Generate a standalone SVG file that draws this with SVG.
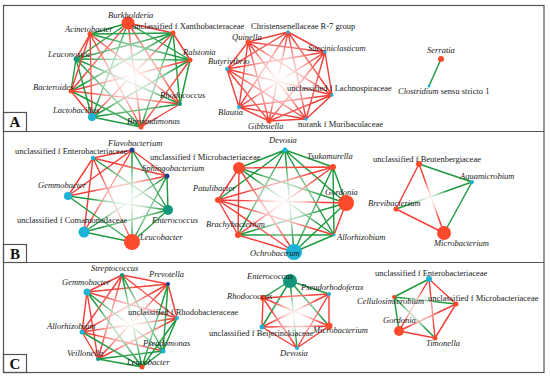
<svg xmlns="http://www.w3.org/2000/svg" width="550" height="379" viewBox="0 0 550 379">
<style>
.r{stroke:#f2413a;stroke-width:1.45;fill:none}
.g{stroke:#1e9a3e;stroke-width:1.45;fill:none}
.t{font-family:"Liberation Serif","Times New Roman",serif;font-size:8.5px;fill:#1a1a1a}
.i{font-style:italic}
.nr{fill:#fd4a2c}
.nc{fill:#1cb3d6}
.nt{fill:#12967c}
.nb{fill:#1f3f8f}
.frame{fill:none;stroke:#555;stroke-width:1.2}
.lab{font-family:"Liberation Serif","Times New Roman",serif;font-size:15px;font-weight:bold;fill:#111;text-anchor:middle}
</style>
<defs>
<radialGradient id="fade">
<stop offset="0" stop-color="#fff" stop-opacity="1"/>
<stop offset="0.5" stop-color="#fff" stop-opacity="0.65"/>
<stop offset="1" stop-color="#fff" stop-opacity="0"/>
</radialGradient>
</defs>
<rect width="550" height="379" fill="#fff"/>
<g id="frame">
<rect class="frame" x="3.5" y="5.5" width="540.5" height="367"/>
<line class="frame" x1="3.5" y1="131.5" x2="544" y2="131.5"/>
<line class="frame" x1="3.5" y1="262.5" x2="544" y2="262.5"/>
<rect class="frame" x="3.5" y="112.5" width="23" height="19"/>
<rect class="frame" x="3.5" y="244.5" width="23" height="18"/>
<rect class="frame" x="3.5" y="354.5" width="23" height="18"/>
<text class="lab" x="15" y="127">A</text>
<text class="lab" x="15" y="259">B</text>
<text class="lab" x="15" y="369">C</text>
</g>
<g id="connectors">
<!-- A1 -->
<line class="r" x1="128" y1="23" x2="173" y2="33"/>
<line class="g" x1="128" y1="23" x2="190" y2="60"/>
<line class="r" x1="128" y1="23" x2="180" y2="104"/>
<line class="r" x1="128" y1="23" x2="141" y2="127"/>
<line class="g" x1="128" y1="23" x2="92" y2="117"/>
<line class="r" x1="128" y1="23" x2="71" y2="91"/>
<line class="g" x1="128" y1="23" x2="76" y2="59"/>
<line class="g" x1="128" y1="23" x2="90" y2="34"/>
<line class="r" x1="173" y1="33" x2="190" y2="60"/>
<line class="g" x1="173" y1="33" x2="180" y2="104"/>
<line class="g" x1="173" y1="33" x2="141" y2="127"/>
<line class="r" x1="173" y1="33" x2="92" y2="117"/>
<line class="g" x1="173" y1="33" x2="71" y2="91"/>
<line class="g" x1="173" y1="33" x2="76" y2="59"/>
<line class="g" x1="173" y1="33" x2="90" y2="34"/>
<line class="g" x1="190" y1="60" x2="180" y2="104"/>
<line class="r" x1="190" y1="60" x2="141" y2="127"/>
<line class="g" x1="190" y1="60" x2="92" y2="117"/>
<line class="r" x1="190" y1="60" x2="71" y2="91"/>
<line class="g" x1="190" y1="60" x2="76" y2="59"/>
<line class="g" x1="190" y1="60" x2="90" y2="34"/>
<line class="r" x1="180" y1="104" x2="141" y2="127"/>
<line class="g" x1="180" y1="104" x2="92" y2="117"/>
<line class="r" x1="180" y1="104" x2="71" y2="91"/>
<line class="g" x1="180" y1="104" x2="76" y2="59"/>
<line class="r" x1="180" y1="104" x2="90" y2="34"/>
<line class="g" x1="141" y1="127" x2="92" y2="117"/>
<line class="g" x1="141" y1="127" x2="71" y2="91"/>
<line class="g" x1="141" y1="127" x2="76" y2="59"/>
<line class="r" x1="141" y1="127" x2="90" y2="34"/>
<line class="r" x1="92" y1="117" x2="71" y2="91"/>
<line class="g" x1="92" y1="117" x2="76" y2="59"/>
<line class="r" x1="92" y1="117" x2="90" y2="34"/>
<line class="g" x1="71" y1="91" x2="76" y2="59"/>
<line class="r" x1="71" y1="91" x2="90" y2="34"/>
<line class="r" x1="76" y1="59" x2="90" y2="34"/>
<!-- A2 all red -->
<path class="r" d="M288 32L325 52M288 32L332 95M288 32L306 119M288 32L269 121M288 32L239 107M288 32L227 69M288 32L248 42
M325 52L332 95M325 52L306 119M325 52L269 121M325 52L239 107M325 52L227 69M325 52L248 42
M332 95L306 119M332 95L269 121M332 95L239 107M332 95L227 69M332 95L248 42
M306 119L269 121M306 119L239 107M306 119L227 69M306 119L248 42
M269 121L239 107M269 121L227 69M269 121L248 42
M239 107L227 69M239 107L248 42
M227 69L248 42"/>
<!-- A3 -->
<line class="g" x1="441" y1="59" x2="429" y2="86"/>
<!-- B1 -->
<path class="r" d="M132 150L167 176M132 150L84 232M132 150L68 196M132 150L93 158M167 176L68 196M167 176L93 158M132 242L93 158M84 232L93 158M68 196L93 158"/>
<path class="g" d="M132 150L168 210M132 150L132 242M167 176L168 210M167 176L132 242M167 176L84 232M168 210L132 242M168 210L84 232M168 210L68 196M168 210L93 158M132 242L84 232M132 242L68 196"/>
<!-- B2 -->
<path class="g" d="M285 150L333 167M285 150L346 203M285 150L334 235M285 150L294 252M285 150L238 235M285 150L218 200M285 150L239 168
M239 168L346 203M239 168L334 235M333 167L346 203M333 167L334 235M333 167L294 252M346 203L294 252M346 203L238 235M334 235L294 252M334 235L238 235"/>
<path class="r" d="M239 168L333 167M239 168L294 252M239 168L238 235M239 168L218 200M333 167L238 235M333 167L218 200M346 203L334 235M346 203L218 200M334 235L218 200M294 252L238 235M294 252L218 200M238 235L218 200"/>
<!-- B3 -->
<path class="g" d="M419 164L472 182M396 209L472 182M472 182L444 233"/>
<path class="r" d="M419 164L396 209M419 164L444 233M396 209L444 233"/>
<!-- C1 -->
<path class="r" d="M122 275L168 284M122 275L177 318M122 275L82 332M122 275L98 359M122 275L87 292
M168 284L177 318M168 284L82 332M168 284L98 359M168 284L87 292
M177 318L82 332M177 318L98 359M177 318L87 292
M82 332L98 359M82 332L87 292M98 359L87 292M82 332L163 351"/>
<path class="g" d="M122 275L163 351M122 275L142 367M168 284L163 351M168 284L142 367M177 318L163 351M177 318L142 367
M82 332L142 367M98 359L163 351M98 359L142 367M87 292L163 351M87 292L142 367M163 351L142 367"/>
<!-- C2 -->
<path class="g" d="M290 281L329 294M290 281L329 326M290 281L297 348M290 281L262 327M290 281L263 298"/>
<path class="r" d="M329 294L329 326M329 294L297 348M329 294L262 327M329 294L263 298M329 326L297 348M329 326L262 327M329 326L263 298M297 348L262 327M297 348L263 298M262 327L263 298"/>
<!-- C3 -->
<path class="g" d="M429 279L394 297M394 297L456 304M394 297L399 331M394 297L435 338"/>
<path class="r" d="M429 279L456 304M429 279L399 331M429 279L435 338M456 304L399 331M456 304L435 338M399 331L435 338"/>
</g>
<g id="fades">
<circle cx="131" cy="76" r="48" fill="url(#fade)"/>
<circle cx="280" cy="78" r="42" fill="url(#fade)"/>
<circle cx="127" cy="200" r="38" fill="url(#fade)"/>
<circle cx="283" cy="203" r="40" fill="url(#fade)"/>
<circle cx="429" cy="200" r="20" fill="url(#fade)"/>
<circle cx="130" cy="322" r="38" fill="url(#fade)"/>
<circle cx="296" cy="316" r="26" fill="url(#fade)"/>
<circle cx="419" cy="310" r="20" fill="url(#fade)"/>
</g>
<!-- Panel A nodes -->
<g id="a-burkholderia"><circle class="nr" cx="128" cy="23" r="6.5"/><text class="t i" x="108" y="18">Burkholderia</text></g>
<g id="a-xantho"><circle class="nr" cx="173" cy="33" r="2.5"/><text class="t" x="132" y="29">unclassified f Xanthobacteraceae</text></g>
<g id="a-ralstonia"><circle class="nr" cx="190" cy="60" r="2.5"/><text class="t i" x="183" y="55">Ralstonia</text></g>
<g id="a-rhodococcus"><circle class="nt" cx="180" cy="104" r="2"/><text class="t i" x="160" y="98">Rhodococcus</text></g>
<g id="a-brevundimonas"><circle class="nr" cx="141" cy="127" r="2.5"/><text class="t i" x="127" y="124">Brevundimonas</text></g>
<g id="a-lactobacillus"><circle class="nc" cx="92" cy="117" r="4"/><text class="t i" x="53" y="113">Lactobacillus</text></g>
<g id="a-bacteroides"><circle class="nr" cx="71" cy="91" r="2.5"/><text class="t i" x="33" y="90">Bacteroides</text></g>
<g id="a-leuconostoc"><circle class="nt" cx="76" cy="59" r="2.5"/><text class="t i" x="48" y="57">Leuconostoc</text></g>
<g id="a-acinetobacter"><circle class="nr" cx="90" cy="34" r="2.5"/><text class="t i" x="65" y="32">Acinetobacter</text></g>
<g id="a-christensenellaceae"><circle class="nc" cx="288" cy="32" r="1.7"/><text class="t" x="251" y="29">Christensenellaceae R-7 group</text></g>
<g id="a-succiniclasticum"><circle class="nc" cx="325" cy="52" r="1.7"/><text class="t i" x="308" y="51">Succiniclasticum</text></g>
<g id="a-lachnospiraceae"><circle class="nc" cx="332" cy="95" r="1.7"/><text class="t" x="287" y="91">unclassified f Lachnospiraceae</text></g>
<g id="a-muribaculaceae"><circle class="nc" cx="306" cy="119" r="1.7"/><text class="t" x="298" y="127">norank f Muribaculaceae</text></g>
<g id="a-gibbsiella"><circle class="nr" cx="269" cy="121" r="2.5"/><text class="t i" x="248" y="129">Gibbsiella</text></g>
<g id="a-blautia"><circle class="nc" cx="239" cy="107" r="2"/><text class="t i" x="218" y="115">Blautia</text></g>
<g id="a-butyrivibrio"><circle class="nc" cx="227" cy="69" r="2"/><text class="t i" x="208" y="64">Butyrivibrio</text></g>
<g id="a-quinella"><circle class="nr" cx="248" cy="42" r="2.5"/><text class="t i" x="232" y="40">Quinella</text></g>
<g id="a-serratia"><circle class="nr" cx="441" cy="59" r="3"/><text class="t i" x="427" y="53">Serratia</text></g>
<g id="a-clostridium"><circle class="nc" cx="429" cy="86" r="1.5"/><text class="t" x="398" y="94"><tspan class="i">Clostridium</tspan> sensu stricto 1</text></g>
<!-- Panel B nodes -->
<g id="b-flavobacterium"><circle class="nb" cx="132" cy="150" r="2.5"/><text class="t i" x="108" y="146">Flavobacterium</text></g>
<g id="b-enterobacteriaceae"><circle class="nc" cx="93" cy="158" r="2.2"/><text class="t" x="15" y="154">unclassified f Enterobacteriaceae</text></g>
<g id="b-sphingobacterium"><circle class="nb" cx="167" cy="176" r="2.5"/><text class="t i" x="142" y="171">Sphingobacterium</text></g>
<g id="b-gemmobacter"><circle class="nc" cx="68" cy="196" r="4"/><text class="t i" x="38" y="188">Gemmobacter</text></g>
<g id="b-enterococcus"><circle class="nt" cx="168" cy="210" r="5"/><text class="t i" x="152" y="223">Enterococcus</text></g>
<g id="b-comamonadaceae"><circle class="nc" cx="84" cy="232" r="5.5"/><text class="t" x="17" y="223">unclassified f Comamonadaceae</text></g>
<g id="b-leucobacter"><circle class="nr" cx="132" cy="242" r="8"/><text class="t i" x="140" y="240">Leucobacter</text></g>
<g id="b-devosia"><circle class="nc" cx="285" cy="150" r="2.5"/><text class="t i" x="269" y="143">Devosia</text></g>
<g id="b-microbacteriaceae"><circle class="nr" cx="239" cy="168" r="6"/><text class="t" x="150" y="160">unclassified f Microbacteriaceae</text></g>
<g id="b-tsukamurella"><circle class="nr" cx="333" cy="167" r="3"/><text class="t i" x="307" y="159">Tsukamurella</text></g>
<g id="b-patulibacter"><circle class="nr" cx="218" cy="200" r="3"/><text class="t i" x="193" y="191">Patulibacter</text></g>
<g id="b-gordonia"><circle class="nr" cx="346" cy="203" r="8"/><text class="t i" x="325" y="195">Gordonia</text></g>
<g id="b-brachybacterium"><circle class="nr" cx="238" cy="235" r="3"/><text class="t i" x="206" y="227">Brachybacterium</text></g>
<g id="b-allorhizobium"><circle class="nc" cx="334" cy="235" r="1.5"/><text class="t i" x="337" y="240">Allorhizobium</text></g>
<g id="b-ochrobactrum"><circle class="nc" cx="294" cy="252" r="8"/><text class="t i" x="250" y="256">Ochrobactrum</text></g>
<g id="b-beutenbergiaceae"><circle class="nr" cx="419" cy="164" r="3"/><text class="t" x="373" y="162">unclassified f Beutenbergiaceae</text></g>
<g id="b-aquamicrobium"><circle class="nc" cx="472" cy="182" r="2"/><text class="t i" x="460" y="179">Aquamicrobium</text></g>
<g id="b-brevibacterium"><circle class="nr" cx="396" cy="209" r="2.5"/><text class="t i" x="368" y="206">Brevibacterium</text></g>
<g id="b-microbacterium"><circle class="nr" cx="444" cy="233" r="7"/><text class="t i" x="434" y="246">Microbacterium</text></g>
<!-- Panel C nodes -->
<g id="c-streptococcus"><circle class="nt" cx="122" cy="275" r="2"/><text class="t i" x="91" y="271">Streptococcus</text></g>
<g id="c-prevotella"><circle class="nb" cx="168" cy="284" r="2"/><text class="t i" x="149" y="277">Prevotella</text></g>
<g id="c-gemmobacter"><circle class="nc" cx="87" cy="292" r="3.5"/><text class="t i" x="62" y="285">Gemmobacter</text></g>
<g id="c-rhodobacteraceae"><circle class="nc" cx="177" cy="318" r="2"/><text class="t" x="128" y="315">unclassified f Rhodobacteraceae</text></g>
<g id="c-allorhizobium"><circle class="nc" cx="82" cy="332" r="2.5"/><text class="t i" x="47" y="329">Allorhizobium</text></g>
<g id="c-pseudomonas"><circle class="nc" cx="163" cy="351" r="2.5"/><text class="t i" x="143" y="346">Pseudomonas</text></g>
<g id="c-veillonella"><circle class="nt" cx="98" cy="359" r="2"/><text class="t i" x="67" y="356">Veillonella</text></g>
<g id="c-leucobacter"><circle class="nr" cx="142" cy="367" r="2.5"/><text class="t i" x="127" y="365">Leucobacter</text></g>
<g id="c-enterococcus"><circle class="nt" cx="290" cy="281" r="7"/><text class="t i" x="247" y="279">Enterococcus</text></g>
<g id="c-pseudorhodoferax"><circle class="nc" cx="329" cy="294" r="2"/><text class="t i" x="301" y="290">Pseudorhodoferax</text></g>
<g id="c-rhodococcus"><circle class="nr" cx="263" cy="298" r="3"/><text class="t i" x="227" y="299">Rhodococcus</text></g>
<g id="c-beijerinckiaceae"><circle class="nc" cx="262" cy="327" r="2.5"/><text class="t" x="209" y="336">unclassified f Beijerinckiaceae</text></g>
<g id="c-microbacterium"><circle class="nr" cx="329" cy="326" r="3.5"/><text class="t i" x="313" y="333">Microbacterium</text></g>
<g id="c-devosia"><circle class="nc" cx="297" cy="348" r="2"/><text class="t i" x="280" y="356">Devosia</text></g>
<g id="c-enterobacteriaceae"><circle class="nc" cx="429" cy="279" r="3"/><text class="t" x="375" y="276">unclassified f Enterobacteriaceae</text></g>
<g id="c-cellulosimicrobium"><circle class="nr" cx="394" cy="297" r="2"/><text class="t i" x="357" y="304">Cellulosimicrobium</text></g>
<g id="c-microbacteriaceae"><circle class="nr" cx="456" cy="304" r="2.5"/><text class="t" x="428" y="301">unclassified f Microbacteriaceae</text></g>
<g id="c-gordonia"><circle class="nr" cx="399" cy="331" r="5"/><text class="t i" x="383" y="323">Gordonia</text></g>
<g id="c-timonella"><circle class="nr" cx="435" cy="338" r="2.5"/><text class="t i" x="426" y="346">Timonella</text></g>
</svg>
